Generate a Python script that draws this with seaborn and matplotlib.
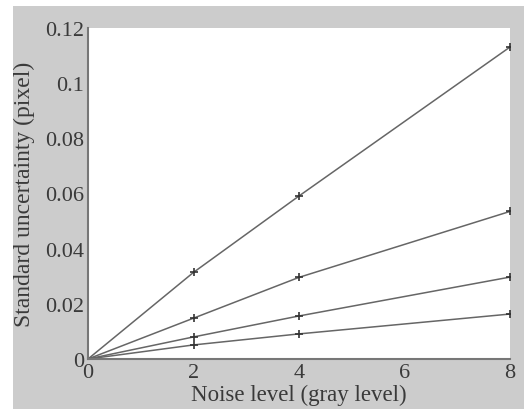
import matplotlib
matplotlib.use("Agg")
import matplotlib.pyplot as plt
import seaborn as sns
import pandas as pd
from matplotlib.patches import Rectangle

noise = [0, 2, 4, 8]
s1 = [0.0, 0.0314, 0.0591, 0.1131]
s2 = [0.0, 0.0148, 0.0296, 0.0535]
s3 = [0.0, 0.0080, 0.0156, 0.0297]
s4 = [0.0, 0.0051, 0.0091, 0.0163]
xticks = [0, 2, 4, 6, 8]
yticks = [0, 0.02, 0.04, 0.06, 0.08, 0.1, 0.12]
ylabels = ["0", "0.02", "0.04", "0.06", "0.08", "0.1", "0.12"]

rows = []
for name, vals in [("s1", s1), ("s2", s2), ("s3", s3), ("s4", s4)]:
    for x, y in zip(noise, vals):
        rows.append({"noise": x, "unc": y, "series": name})
df = pd.DataFrame(rows)

sns.set_style("white")
plt.rcParams["font.family"] = ["Liberation Serif", "DejaVu Serif"]

fig = plt.figure(figsize=(5.24, 4.10), dpi=100, facecolor="white")
fig.patches.append(Rectangle((13 / 524, 0), 1 - 13 / 524, 1 - 7 / 410,
                             transform=fig.transFigure, facecolor="#cccccc",
                             edgecolor="none", zorder=-10))
ax = fig.add_axes([88 / 524, 50 / 410, 422 / 524, 331 / 410])
ax.set_facecolor("white")

sns.lineplot(data=df, x="noise", y="unc", units="series", estimator=None,
             color="#666666", linewidth=1.1, marker="+", markersize=6,
             markeredgewidth=1.2, markeredgecolor="#333333", ax=ax)

ax.set_xlim(0, 8)
ax.set_ylim(0, 0.12)
ax.set_xticks(xticks)
ax.set_xticklabels([str(t) for t in xticks])
ax.set_yticks(yticks)
ax.set_yticklabels(ylabels)
ax.tick_params(direction="in", length=3, width=0.8, color="#555555",
               labelsize=16, labelcolor="#3a3a3a")
ax.tick_params(axis="x", pad=3)
ax.tick_params(axis="y", pad=3)
for side in ["top", "right"]:
    ax.spines[side].set_visible(False)
for side in ["left", "bottom"]:
    ax.spines[side].set_color("#777777")
    ax.spines[side].set_linewidth(1.5)

ax.set_xlabel("Noise level (gray level)", fontsize=16.5, color="#3a3a3a", labelpad=1)
ax.set_ylabel("Standard uncertainty (pixel)", fontsize=17, color="#3a3a3a", labelpad=7)

fig.savefig("out.png", dpi=100, facecolor=fig.get_facecolor())
